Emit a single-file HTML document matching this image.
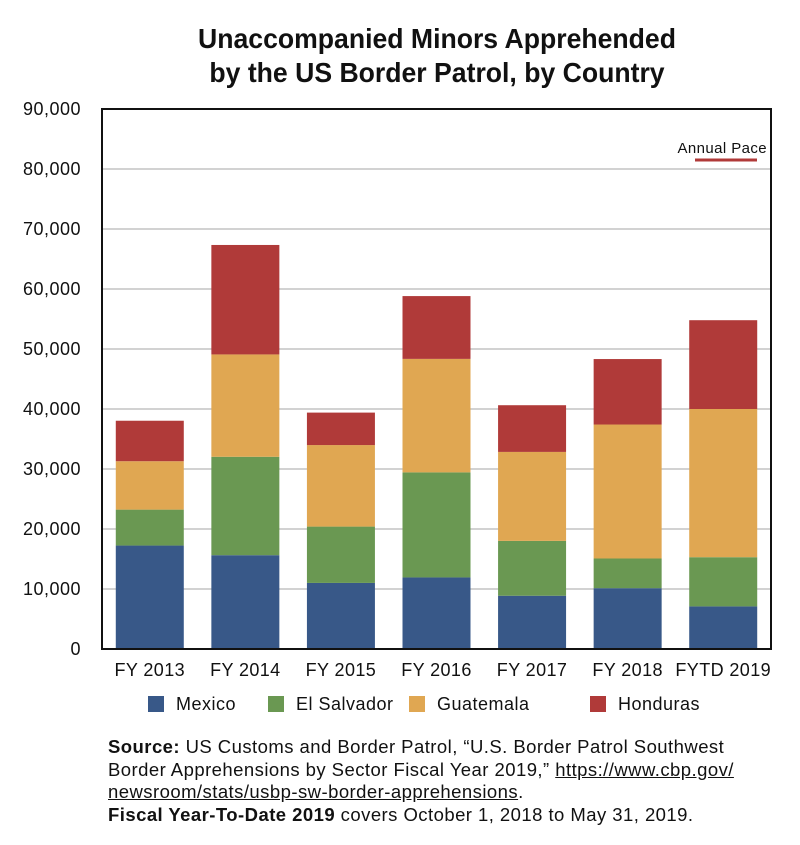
<!DOCTYPE html>
<html><head><meta charset="utf-8"><style>
body{margin:0;background:#fff;width:800px;height:845px;overflow:hidden;font-family:"Liberation Sans",sans-serif;}
#title{position:absolute;left:37px;top:22px;width:800px;text-align:center;font-weight:bold;font-size:28px;line-height:34px;color:#111;transform:scaleX(0.95);}
#source{position:absolute;left:108px;top:736px;font-size:18.5px;letter-spacing:0.45px;line-height:22.5px;color:#111;white-space:nowrap;}
#source a{color:#111;text-decoration:underline;}
</style></head><body>
<div id="title">Unaccompanied Minors Apprehended<br>by the US Border Patrol, by Country</div>
<svg id="chart" width="800" height="730" style="position:absolute;left:0;top:0"></svg>
<div id="source"><b>Source:</b> US Customs and Border Patrol, “U.S. Border Patrol Southwest<br>Border Apprehensions by Sector Fiscal Year 2019,” <a>https://www.cbp.gov/<br>newsroom/stats/usbp-sw-border-apprehensions</a>.<br><b>Fiscal Year-To-Date 2019</b> covers October 1, 2018 to May 31, 2019.</div>
<script>
const categories=["FY 2013","FY 2014","FY 2015","FY 2016","FY 2017","FY 2018","FYTD 2019"];
const seriesNames=["Mexico","El Salvador","Guatemala","Honduras"];
const mexico=[17240,15634,11012,11926,8877,10136,7100];
const elSalvador=[5990,16404,9389,17512,9143,4949,8200];
const guatemala=[8068,17057,13589,18913,14827,22327,24700];
const honduras=[6747,18244,5409,10468,7784,10913,14800];
const yTicks=[0,10000,20000,30000,40000,50000,60000,70000,80000,90000];
const colors=["#385888","#6a9852","#e0a752","#b03a39"];
const svg=document.getElementById('chart');
const NS="http://www.w3.org/2000/svg";
const X0=102,X1=771,Y0=649,Y1=109,YMAX=90000;
const y=v=>Y0-(v/YMAX)*(Y0-Y1);
const band=(X1-X0)/categories.length;
const xc=i=>X0+band*(i+0.5);
function mk(tag,attrs){const e=document.createElementNS(NS,tag);for(const k in attrs)e.setAttribute(k,attrs[k]);svg.appendChild(e);return e;}
yTicks.forEach(t=>{
  if(t>0&&t<YMAX){const g=mk('line',{x1:X0,x2:X1,y1:y(t),y2:y(t),stroke:'#c4c4c4','stroke-width':1.5});
  
  }
  const l=mk('text',{x:81,y:y(t)+6,'text-anchor':'end','font-size':18,'letter-spacing':0.5,fill:'#111'});
  l.textContent=t.toLocaleString('en-US');
  
  
});
const series=[mexico,elSalvador,guatemala,honduras];
categories.forEach((c,i)=>{
  let base=0;
  series.forEach((s,k)=>{
    const r=mk('rect',{x:xc(i)-34,width:68,y:y(base+s[i]),height:y(base)-y(base+s[i]),fill:colors[k]});
    
    
    base+=s[i];
  });
  const t=mk('text',{x:xc(i),y:676,'text-anchor':'middle','font-size':18,'letter-spacing':0.4,fill:'#111'});
  t.textContent=c;
  
  
});
const frame=mk('rect',{x:X0,y:Y1,width:X1-X0,height:Y0-Y1,fill:'none',stroke:'#111','stroke-width':2});


const ap=mk('text',{x:767,y:153,'text-anchor':'end','font-size':15,'letter-spacing':0.4,fill:'#111'});
ap.textContent="Annual Pace";


const apl=mk('line',{x1:695,x2:757,y1:160,y2:160,stroke:'#b03a39','stroke-width':3});


const legX=[148,268,409,590];
seriesNames.forEach((n,k)=>{
  const r=mk('rect',{x:legX[k],y:696,width:16,height:16,fill:colors[k]});
  
  
  const t=mk('text',{x:legX[k]+28,y:710,'font-size':18,'letter-spacing':0.5,fill:'#111'});
  t.textContent=n;
  
  
});
</script>
</body></html>
